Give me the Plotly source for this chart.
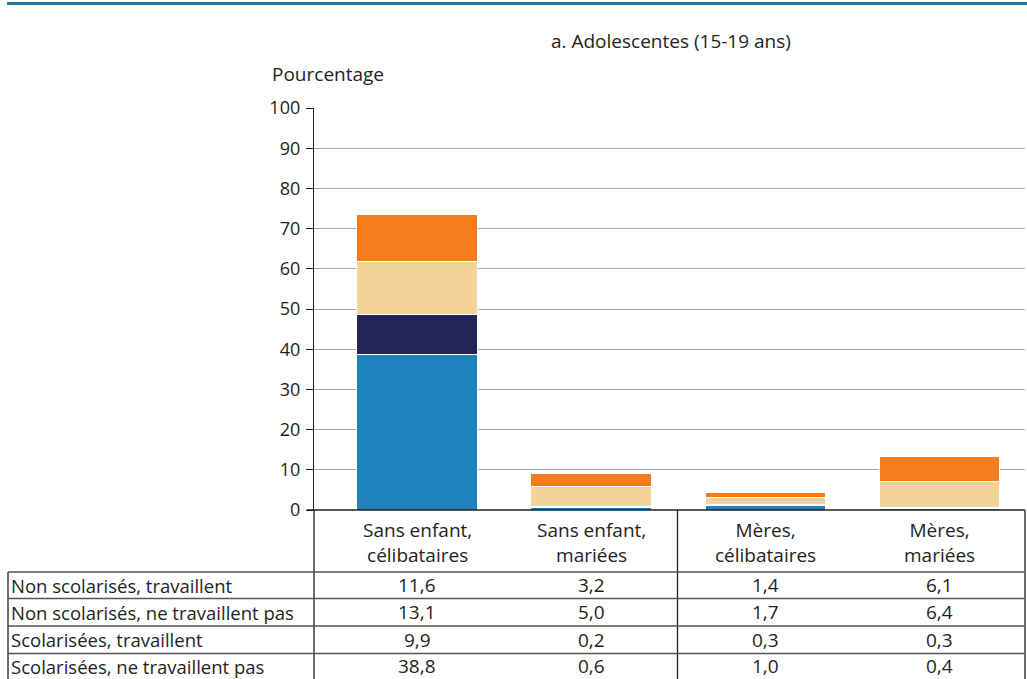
import plotly.graph_objects as go

# ---------------- data ----------------
categories = ["Sans enfant,<br>célibataires", "Sans enfant,<br>mariées",
              "Mères,<br>célibataires", "Mères,<br>mariées"]
series_names = ["Non scolarisés, travaillent",
                "Non scolarisés, ne travaillent pas",
                "Scolarisées, travaillent",
                "Scolarisées, ne travaillent pas"]
non_scol_trav = [11.6, 3.2, 1.4, 6.1]
non_scol_ne_trav = [13.1, 5.0, 1.7, 6.4]
scol_trav = [9.9, 0.2, 0.3, 0.3]
scol_ne_trav = [38.8, 0.6, 1.0, 0.4]
y_ticks = [0, 10, 20, 30, 40, 50, 60, 70, 80, 90, 100]
title_text = "a. Adolescentes (15-19 ans)"
y_title = "Pourcentage"

series_values = [non_scol_trav, non_scol_ne_trav, scol_trav, scol_ne_trav]
colors = ["#F47D20", "#F2D49B", "#232457", "#1F82BD"]

# ---------------- layout geometry ----------------
W, H = 1027, 679
L, R, T, B = 314, 1025, 108, 510  # plot area in pixels
FONT = "Open Sans"
TXT = "#231f20"


def px(x):
    return (x - L) / (R - L)


def py(y):
    return (B - y) / (B - T)


xs = list(range(len(categories)))

fig = go.Figure()
# stack from bottom: last series first
for name, vals, col in reversed(list(zip(series_names, series_values, colors))):
    fig.add_trace(go.Bar(
        x=xs, y=vals, name=name, width=0.69,
        marker=dict(color=col, line=dict(color="white", width=1)),
        hoverinfo="skip", showlegend=False,
    ))

fig.update_layout(
    width=W, height=H, barmode="stack",
    margin=dict(l=L, r=W - R, t=T, b=H - B, pad=0),
    plot_bgcolor="white", paper_bgcolor="white",
    font=dict(family=FONT, size=17, color=TXT),
    xaxis=dict(range=[-0.592, 3.494], showticklabels=False, showgrid=False,
               zeroline=False, showline=False, ticks=""),
    yaxis=dict(range=[0, 100], tickvals=y_ticks, showgrid=True,
               gridcolor="#a8a8a8", gridwidth=1, zeroline=False,
               showline=True, linecolor="#231f20", linewidth=1.3,
               ticks="outside", ticklen=7, tickcolor="#231f20", tickwidth=1.3,
               tickfont=dict(size=18, color=TXT), ticklabelstandoff=2),
)

shapes = []
# top blue rule
shapes.append(dict(type="line", xref="paper", yref="paper",
                   x0=px(7), x1=px(1030), y0=py(3.5), y1=py(3.5),
                   line=dict(color="#1A7BA0", width=3)))
# zero baseline
shapes.append(dict(type="line", xref="paper", yref="paper",
                   x0=px(307), x1=px(R), y0=py(510), y1=py(510),
                   line=dict(color="#231f20", width=1.3)))
# y axis continued down through table
shapes.append(dict(type="line", xref="paper", yref="paper",
                   x0=0, x1=0, y0=py(510), y1=py(680),
                   line=dict(color="#231f20", width=1.3)))
# middle divider & right border
for xv in (677.5, R):
    shapes.append(dict(type="line", xref="paper", yref="paper",
                       x0=px(xv), x1=px(xv), y0=py(510), y1=py(680),
                       line=dict(color="#231f20", width=1.3)))
# left border of table
shapes.append(dict(type="line", xref="paper", yref="paper",
                   x0=px(8), x1=px(8), y0=py(572), y1=py(680),
                   line=dict(color="#231f20", width=1.3)))
# horizontal table lines
for yv in (572, 598.5, 626, 653.5):
    shapes.append(dict(type="line", xref="paper", yref="paper",
                       x0=px(8), x1=px(R), y0=py(yv), y1=py(yv),
                       line=dict(color="#555555", width=1.5)))

annotations = []
annotations.append(dict(text=title_text, xref="paper", yref="paper",
                        x=px(671), y=py(41), xanchor="center", yanchor="middle",
                        showarrow=False, font=dict(size=19, color=TXT)))
annotations.append(dict(text=y_title, xref="paper", yref="paper",
                        x=px(270), y=py(74), xanchor="left", yanchor="middle",
                        showarrow=False, font=dict(size=19, color=TXT)))
# category labels
for i, c in enumerate(categories):
    annotations.append(dict(text=c, xref="x", yref="paper", x=i, y=py(542),
                            xanchor="center", yanchor="middle", showarrow=False,
                            font=dict(size=19, color=TXT)))
# table rows
row_centers = [585, 612, 639.5, 666]
for rc, name, vals in zip(row_centers, series_names, series_values):
    annotations.append(dict(text=name, xref="paper", yref="paper",
                            x=px(9), y=py(rc), xanchor="left", yanchor="middle",
                            showarrow=False, font=dict(size=18.5, color=TXT)))
    for i, v in enumerate(vals):
        annotations.append(dict(text=f"{v:.1f}".replace(".", ","), xref="x",
                                yref="paper", x=i, y=py(rc), xanchor="center",
                                yanchor="middle", showarrow=False,
                                font=dict(size=19, color=TXT)))

fig.update_layout(shapes=shapes, annotations=annotations)
fig.write_html("out.html", config={"displayModeBar": False},
               post_script="document.body.style.margin='0';document.body.style.padding='0';")
